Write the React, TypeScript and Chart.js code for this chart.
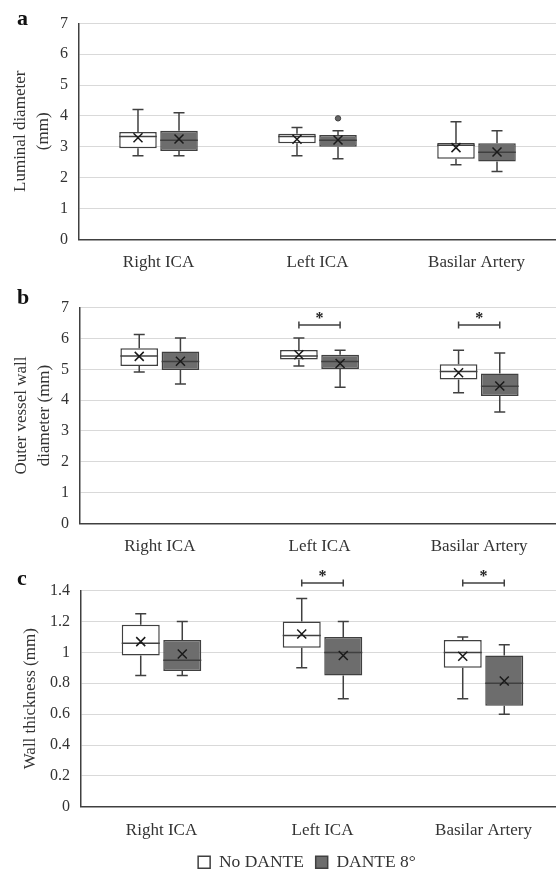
import React, { useEffect, useRef } from 'react';
import { Chart, registerables } from 'chart.js';

Chart.register(...registerables);

// ---------------- DATA ----------------
const categories = ['Right ICA', 'Left ICA', 'Basilar Artery'];
const seriesNames = ['No DANTE', 'DANTE 8°'];

// each row: [min, q1, median, q3, max, mean]
const luminalNoDante = [
  [2.71, 2.95, 3.33, 3.48, 4.21, 3.29],
  [2.71, 3.11, 3.33, 3.42, 3.62, 3.24],
  [2.42, 2.61, 3.05, 3.12, 3.81, 2.97],
];
const luminalDante = [
  [2.71, 2.86, 3.21, 3.52, 4.1, 3.25],
  [2.61, 3.0, 3.21, 3.38, 3.52, 3.22],
  [2.2, 2.52, 2.82, 3.11, 3.52, 2.83],
];
const luminalNoDanteOutliers: number[][] = [[], [], []];
const luminalDanteOutliers: number[][] = [[], [3.92], []];
const luminalSignificant = [false, false, false];
const luminalTicks = [0, 1, 2, 3, 4, 5, 6, 7];

const outerNoDante = [
  [4.91, 5.11, 5.43, 5.68, 6.13, 5.42],
  [5.11, 5.32, 5.43, 5.63, 6.02, 5.47],
  [4.24, 4.67, 4.93, 5.16, 5.62, 4.89],
];
const outerDante = [
  [4.52, 4.98, 5.25, 5.58, 6.02, 5.26],
  [4.42, 5.01, 5.25, 5.47, 5.62, 5.19],
  [3.61, 4.13, 4.45, 4.86, 5.53, 4.46],
];
const outerNoDanteOutliers: number[][] = [[], [], []];
const outerDanteOutliers: number[][] = [[], [], []];
const outerSignificant = [false, true, true];
const outerBracketLevel = 6.44;
const outerTicks = [0, 1, 2, 3, 4, 5, 6, 7];

const wallNoDante = [
  [0.85, 0.98, 1.06, 1.18, 1.25, 1.07],
  [0.9, 1.03, 1.11, 1.2, 1.35, 1.12],
  [0.7, 0.9, 1.0, 1.08, 1.1, 0.975],
];
const wallDante = [
  [0.85, 0.88, 0.95, 1.08, 1.2, 0.99],
  [0.7, 0.85, 1.0, 1.1, 1.2, 0.98],
  [0.6, 0.655, 0.8, 0.98, 1.05, 0.815],
];
const wallNoDanteOutliers: number[][] = [[], [], []];
const wallDanteOutliers: number[][] = [[], [], []];
const wallSignificant = [false, true, true];
const wallBracketLevel = 1.45;
const wallTicks = [0, 0.2, 0.4, 0.6, 0.8, 1, 1.2, 1.4];

// ---------------- STYLE ----------------
const FONT = "'Liberation Serif', 'Times New Roman', Times, serif";
const TEXT = '#333333';
const LINE = '#404040';
const GRID = '#d9d9d9';
const DARK_FILL = '#6d6d6d';

type PanelCfg = {
  letter: string;
  title: string | string[];
  stats: number[][][];
  outliers: number[][][];
  ticks: number[];
  significant: boolean[];
  bracketLevel: number;
  top: number;
  width: number;
  height: number;
  padLeft: number;
  yAxisWidth: number;
  titlePad: number;
  chartTop: number;
  xAxisHeight: number;
  legend: boolean;
  letterBaseline: number;
};

const panels: PanelCfg[] = [
  {
    letter: 'a',
    title: ['Luminal diameter', '(mm)'],
    stats: [luminalNoDante, luminalDante],
    outliers: [luminalNoDanteOutliers, luminalDanteOutliers],
    ticks: luminalTicks,
    significant: luminalSignificant,
    bracketLevel: 0,
    top: 0,
    width: 556,
    height: 277,
    padLeft: 0,
    yAxisWidth: 79,
    titlePad: 9.5,
    chartTop: 23.3,
    xAxisHeight: 37.7,
    legend: false,
    letterBaseline: 25,
  },
  {
    letter: 'b',
    title: ['Outer vessel wall', 'diameter (mm)'],
    stats: [outerNoDante, outerDante],
    outliers: [outerNoDanteOutliers, outerDanteOutliers],
    ticks: outerTicks,
    significant: outerSignificant,
    bracketLevel: outerBracketLevel,
    top: 280,
    width: 559,
    height: 281,
    padLeft: 0,
    yAxisWidth: 80,
    titlePad: 10.5,
    chartTop: 27.7,
    xAxisHeight: 37.7,
    legend: false,
    letterBaseline: 24,
  },
  {
    letter: 'c',
    title: 'Wall thickness (mm)',
    stats: [wallNoDante, wallDante],
    outliers: [wallNoDanteOutliers, wallDanteOutliers],
    ticks: wallTicks,
    significant: wallSignificant,
    bracketLevel: wallBracketLevel,
    top: 560,
    width: 564,
    height: 321,
    padLeft: 50,
    yAxisWidth: 31,
    titlePad: -30.5,
    chartTop: 30.7,
    xAxisHeight: 35,
    legend: true,
    letterBaseline: 25,
  },
];

function makeBoxPlugin(cfg: PanelCfg) {
  return {
    id: 'boxDetails',
    afterDatasetsDraw(chart: any) {
      const ctx: CanvasRenderingContext2D = chart.ctx;
      const y = chart.scales.y;
      const cap = 5.5;
      const xs = 4.5;
      cfg.stats.forEach((series, d) => {
        const meta = chart.getDatasetMeta(d);
        meta.data.forEach((bar: any, i: number) => {
          const s = series[i];
          const { x, width } = bar.getProps(['x', 'width'], true);
          const half = width / 2;
          const pMin = y.getPixelForValue(s[0]);
          const pQ1 = y.getPixelForValue(s[1]);
          const pMed = y.getPixelForValue(s[2]);
          const pQ3 = y.getPixelForValue(s[3]);
          const pMax = y.getPixelForValue(s[4]);
          const pMean = y.getPixelForValue(s[5]);
          ctx.save();
          ctx.strokeStyle = LINE;
          ctx.lineWidth = 1.5;
          ctx.beginPath();
          ctx.moveTo(x, pQ3);
          ctx.lineTo(x, pMax);
          ctx.moveTo(x - cap, pMax);
          ctx.lineTo(x + cap, pMax);
          ctx.moveTo(x, pQ1);
          ctx.lineTo(x, pMin);
          ctx.moveTo(x - cap, pMin);
          ctx.lineTo(x + cap, pMin);
          ctx.moveTo(x - half, pMed);
          ctx.lineTo(x + half, pMed);
          ctx.stroke();
          ctx.strokeStyle = '#1a1a1a';
          ctx.beginPath();
          ctx.moveTo(x - xs, pMean - xs);
          ctx.lineTo(x + xs, pMean + xs);
          ctx.moveTo(x - xs, pMean + xs);
          ctx.lineTo(x + xs, pMean - xs);
          ctx.stroke();
          cfg.outliers[d][i].forEach((v) => {
            const py = y.getPixelForValue(v);
            ctx.beginPath();
            ctx.arc(x, py, 2.7, 0, Math.PI * 2);
            ctx.fillStyle = '#666666';
            ctx.fill();
            ctx.lineWidth = 1;
            ctx.strokeStyle = LINE;
            ctx.stroke();
          });
          ctx.restore();
        });
      });
      // significance brackets
      const m0 = chart.getDatasetMeta(0);
      const m1 = chart.getDatasetMeta(1);
      cfg.significant.forEach((sig, i) => {
        if (!sig) return;
        const x0 = m0.data[i].x;
        const x1 = m1.data[i].x;
        const yb = y.getPixelForValue(cfg.bracketLevel);
        ctx.save();
        ctx.strokeStyle = LINE;
        ctx.lineWidth = 1.5;
        ctx.beginPath();
        ctx.moveTo(x0, yb);
        ctx.lineTo(x1, yb);
        ctx.moveTo(x0, yb - 3.5);
        ctx.lineTo(x0, yb + 3.5);
        ctx.moveTo(x1, yb - 3.5);
        ctx.lineTo(x1, yb + 3.5);
        ctx.stroke();
        ctx.fillStyle = '#222';
        ctx.font = `bold 16px ${FONT}`;
        ctx.textAlign = 'center';
        ctx.textBaseline = 'middle';
        ctx.fillText('*', (x0 + x1) / 2, yb - 6);
        ctx.restore();
      });
    },
  };
}

function makeLetterPlugin(cfg: PanelCfg) {
  return {
    id: 'panelLetter',
    afterDraw(chart: any) {
      const ctx: CanvasRenderingContext2D = chart.ctx;
      ctx.save();
      ctx.fillStyle = '#111';
      ctx.font = `bold 22px ${FONT}`;
      ctx.textAlign = 'left';
      ctx.textBaseline = 'alphabetic';
      ctx.fillText(cfg.letter, 17, cfg.letterBaseline);
      ctx.restore();
    },
  };
}

function Panel({ cfg }: { cfg: PanelCfg }) {
  const ref = useRef<HTMLCanvasElement>(null);
  useEffect(() => {
    const canvas = ref.current!;
    const fills = ['#ffffff', DARK_FILL];
    const chart = new Chart(canvas, {
      type: 'bar',
      data: {
        labels: categories,
        datasets: cfg.stats.map((series, d) => ({
          label: seriesNames[d],
          data: series.map((s) => [s[1], s[3]]),
          backgroundColor: fills[d],
          borderColor: LINE,
          borderWidth: 1.5,
          borderSkipped: false,
          barPercentage: 0.915,
          categoryPercentage: 0.516,
        })) as any,
      },
      options: {
        responsive: false,
        animation: false,
        devicePixelRatio: 1,
        layout: { padding: { top: cfg.chartTop, left: cfg.padLeft, right: 0, bottom: 0 } },
        plugins: {
          tooltip: { enabled: false },
          legend: cfg.legend
            ? {
                display: true,
                position: 'bottom',
                labels: {
                  boxWidth: 12,
                  boxHeight: 12,
                  padding: 11.75,
                  color: TEXT,
                  font: { family: FONT, size: 17.5 },
                },
              }
            : { display: false },
        },
        scales: {
          x: {
            grid: { display: false, drawTicks: false },
            border: { display: true, color: LINE, width: 1.5 },
            ticks: {
              font: { family: FONT, size: 17 },
              color: TEXT,
              padding: 13.5,
              maxRotation: 0,
              autoSkip: false,
            },
            afterFit: (s: any) => {
              s.height = cfg.xAxisHeight;
            },
          },
          y: {
            min: cfg.ticks[0],
            max: cfg.ticks[cfg.ticks.length - 1],
            afterBuildTicks: (s: any) => {
              s.ticks = cfg.ticks.map((v) => ({ value: v }));
            },
            grid: {
              color: (c: any) => (c.tick && c.tick.value === 0 ? 'rgba(0,0,0,0)' : GRID),
              lineWidth: 1,
              drawTicks: false,
            },
            border: { display: true, color: LINE, width: 1.5 },
            ticks: {
              font: { family: FONT, size: 16 },
              color: TEXT,
              padding: 11,
              callback: (v: any) => String(Number(Number(v).toFixed(1))),
            },
            title: {
              display: true,
              text: cfg.title,
              color: TEXT,
              font: { family: FONT, size: 17, lineHeight: 1.35 },
              padding: { top: cfg.titlePad, bottom: 0 },
            },
            afterFit: (s: any) => {
              s.width = cfg.yAxisWidth;
            },
          },
        },
      } as any,
      plugins: [makeBoxPlugin(cfg), makeLetterPlugin(cfg)],
    });
    return () => chart.destroy();
  }, []);
  return (
    <canvas
      ref={ref}
      width={cfg.width}
      height={cfg.height}
      style={{ position: 'absolute', left: 0, top: cfg.top, width: cfg.width, height: cfg.height }}
    />
  );
}

export default function App() {
  return (
    <div
      style={{
        position: 'fixed',
        left: 0,
        top: 0,
        width: 556,
        height: 872,
        overflow: 'hidden',
        background: '#ffffff',
      }}
    >
      {panels.map((p) => (
        <Panel key={p.letter} cfg={p} />
      ))}
    </div>
  );
}
